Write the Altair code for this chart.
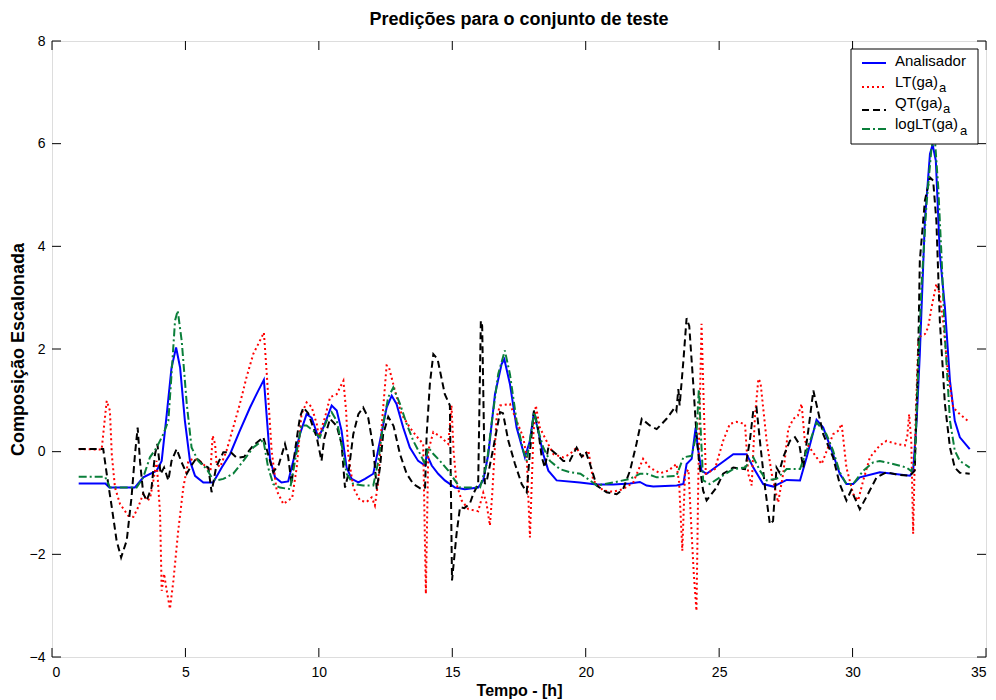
import altair as alt
import pandas as pd

# ---------------- data ----------------
x_ticks = [0, 5, 10, 15, 20, 25, 30, 35]
y_ticks = [-4, -2, 0, 2, 4, 6, 8]

analisador_t = [1.0, 2.0, 2.15, 3.1, 3.42, 3.92, 4.11, 4.30, 4.48, 4.65, 4.80, 4.98, 5.17, 5.36, 5.67, 6.04,
                6.36, 6.67, 7.04, 7.42, 7.73, 7.94, 8.17, 8.36, 8.6, 8.85, 9.04, 9.29, 9.54, 9.73, 9.98, 10.17,
                10.48, 10.67, 10.85, 11.04, 11.23, 11.48, 11.73, 12.04, 12.29, 12.54, 12.73, 12.91, 13.16, 13.41,
                13.72, 13.98, 14.04, 14.23, 14.47, 14.72, 15.1, 15.47, 15.97, 16.16, 16.35, 16.6, 16.85, 16.95,
                17.16, 17.41, 17.72, 17.91, 18.06, 18.22, 18.41, 18.6, 18.91, 19.78, 20.41, 21.03, 21.66, 22.03,
                22.28, 22.53, 23.41, 23.66, 23.78, 23.97, 24.12, 24.2, 24.34, 24.53, 25.03, 25.53, 26.03, 26.28,
                26.65, 27.03, 27.53, 28.03, 28.28, 28.65, 28.9, 29.27, 29.52, 29.77, 30.02, 30.27, 31.02, 31.52,
                32.15, 32.27, 32.4, 32.52, 32.71, 32.9, 33.0, 33.12, 33.27, 33.46, 33.65, 33.83, 34.02, 34.39]
analisador_y = [-0.62, -0.62, -0.70, -0.70, -0.50, -0.37, -0.18, 0.73, 1.64, 2.03, 1.64, 0.60, -0.18, -0.47, -0.60, -0.60,
                -0.31, -0.05, 0.41, 0.86, 1.19, 1.40, -0.15, -0.50, -0.60, -0.58, -0.18, 0.34, 0.73, 0.66, 0.28, 0.47,
                0.90, 0.80, 0.41, -0.31, -0.53, -0.60, -0.53, -0.43, 0.21, 0.86, 1.09, 0.93, 0.47, 0.08,
                -0.18, -0.27, -0.05, -0.27, -0.43, -0.56, -0.70, -0.73, -0.70, -0.56, -0.05, 1.12, 1.71, 1.80,
                1.32, 0.47, -0.11, 0.21, 0.77, 0.40, -0.05, -0.37, -0.56, -0.60, -0.64, -0.64, -0.62, -0.59,
                -0.66, -0.68, -0.66, -0.63, -0.24, -0.14, 0.47, 0.08, -0.37, -0.43, -0.24, -0.05, -0.05, -0.31,
                -0.63, -0.68, -0.55, -0.56, -0.11, 0.62, 0.47, -0.05, -0.43, -0.63, -0.63, -0.50, -0.40, -0.43,
                -0.47, -0.37, 0.60, 1.90, 4.50, 5.80, 5.98, 5.67, 3.85, 2.81, 1.38, 0.60, 0.28, 0.05]

lt_t = [1.0, 1.86, 2.05, 2.17, 2.24, 2.36, 2.55, 2.86, 3.05, 3.23, 3.42, 3.55, 3.67, 3.8, 3.92, 4.05, 4.11, 4.20,
        4.30, 4.42, 4.55, 4.73, 4.92, 5.11, 5.29, 5.5, 5.8, 5.94, 6.02, 6.11, 6.17, 6.3, 6.54, 6.79, 7.04, 7.29,
        7.54, 7.79, 7.94, 8.04, 8.23, 8.42, 8.67, 8.85, 9.0, 9.17, 9.35, 9.54, 9.73, 9.92, 10.0, 10.23, 10.42,
        10.67, 10.79, 10.92, 11.02, 11.1, 11.29, 11.54, 11.79, 11.98, 12.1, 12.23, 12.35, 12.54, 12.62, 12.85,
        13.1, 13.41, 13.66, 13.91, 14.01, 14.1, 14.29, 14.54, 14.85, 14.97, 15.05, 15.16, 15.35, 15.6, 15.97,
        16.16, 16.28, 16.41, 16.5, 16.66, 16.79, 17.16, 17.41, 17.66, 17.79, 17.91, 18.04, 18.13, 18.28, 18.53,
        18.79, 19.16, 19.4, 19.66, 19.85, 20.1, 20.28, 20.66, 21.03, 21.4, 21.78, 22.15, 22.4, 22.78, 23.1,
        23.4, 23.5, 23.62, 23.72, 23.85, 23.97, 24.05, 24.15, 24.22, 24.34, 24.42, 24.5, 24.84, 25.15, 25.4,
        25.65, 25.97, 26.09, 26.22, 26.34, 26.47, 26.55, 26.78, 26.97, 27.21, 27.4, 27.59, 27.78, 27.95, 28.09,
        28.21, 28.65, 28.84, 29.02, 29.27, 29.45, 29.59, 29.77, 30.02, 30.21, 30.4, 30.65, 31.02, 31.27, 31.65,
        31.96, 32.05, 32.12, 32.2, 32.27, 32.36, 32.47, 32.71, 32.83, 32.96, 33.14, 33.25, 33.39, 33.58, 33.77,
        34.02, 34.39]
lt_y = [0.05, 0.04, 0.99, 0.80, -0.05, -0.70, -1.02, -1.25, -1.27, -1.08, -0.82, -0.95, -0.92, -0.56, -0.18, -1.21,
        -2.71, -2.38, -2.71, -3.06, -2.51, -1.54, -0.70, -0.18, -0.14, -0.16, -0.31, -0.37, 0.31, 0.15, -0.24,
        -0.30, 0.02, 0.47, 0.93, 1.45, 1.90, 2.16, 2.32, 1.58, 0.02, -0.76, -1.02, -0.95, -0.90, -0.31, 0.73,
        0.96, 0.87, 0.54, 0.30, 0.67, 1.06, 1.12, 1.25, 1.38, 0.80, -0.05, -0.70, -0.95, -0.98, -0.89, -1.05,
        -0.56, 0.47, 1.68, 1.66, 1.19, 0.73, 0.47, 0.30, 0.15, -2.77, 0.02, 0.38, 0.30, 0.15, 0.90, 0.0, -0.63,
        -0.95, -1.12, -1.16, -0.80, -1.00, -1.44, -0.80, 0.67, 0.90, 0.93, 0.60, 0.28, -0.11, -1.67, 0.34, 0.90,
        0.47, 0.21, -0.05, -0.11, -0.05, 0.08, -0.11, 0.02, -0.56, -0.76, -0.78, -0.73, -0.60, -0.14, -0.31,
        -0.42, -0.37, -0.24, -0.60, -1.93, -0.43, -0.35, -1.60, -2.38, -3.10, -0.50, 2.49, 0.99, -0.43, -0.34,
        0.21, 0.54, 0.58, 0.54, -0.43, -0.66, 0.67, 1.42, 1.35, 0.21, -0.43, -0.99, -0.43, 0.44, 0.64, 0.70,
        0.93, 0.21, -0.11, -0.24, 0.0, 0.34, 0.40, 0.54, -0.31, -0.82, -0.95, -0.56, -0.11, 0.12, 0.21, 0.15,
        0.12, 0.30, 0.73, 0.20, -1.60, 0.60, 2.23, 2.29, 2.42, 2.81, 3.27, 3.10, 2.55, 1.51, 0.86, 0.73, 0.57]

qt_t = [1.0, 1.92, 2.05, 2.24, 2.42, 2.59, 2.80, 2.98, 3.11, 3.21, 3.30, 3.42, 3.55, 3.73, 3.86, 3.95, 4.07, 4.20,
        4.36, 4.48, 4.67, 4.85, 5.05, 5.25, 5.42, 5.65, 5.86, 5.98, 6.15, 6.42, 6.7, 6.92, 7.2, 7.54, 7.92, 8.17,
        8.29, 8.5, 8.73, 8.85, 8.98, 9.1, 9.29, 9.42, 9.6, 9.92, 10.1, 10.2, 10.42, 10.67, 10.85, 10.98, 11.1,
        11.29, 11.48, 11.66, 11.85, 12.04, 12.17, 12.29, 12.41, 12.6, 12.8, 13.04, 13.29, 13.54, 13.85, 13.98,
        14.04, 14.16, 14.29, 14.45, 14.72, 14.91, 14.99, 15.16, 15.29, 15.45, 15.66, 15.79, 15.97, 16.07, 16.12,
        16.22, 16.3, 16.54, 16.79, 16.9, 17.1, 17.35, 17.6, 17.79, 17.91, 18.06, 18.2, 18.35, 18.47, 18.6, 18.9,
        19.16, 19.4, 19.66, 19.85, 20.0, 20.16, 20.41, 20.78, 21.16, 21.4, 21.66, 21.9, 22.1, 22.4, 22.66, 23.03,
        23.34, 23.4, 23.47, 23.52, 23.66, 23.78, 23.88, 24.03, 24.15, 24.25, 24.4, 24.53, 24.9, 25.15, 25.53,
        25.97, 26.15, 26.28, 26.4, 26.55, 26.72, 26.9, 27.02, 27.15, 27.25, 27.4, 27.65, 27.84, 28.0, 28.15,
        28.34, 28.53, 28.7, 28.9, 29.27, 29.52, 29.77, 29.95, 30.27, 30.5, 30.9, 31.27, 31.7, 32.15, 32.33,
        32.46, 32.52, 32.71, 32.9, 33.02, 33.14, 33.27, 33.46, 33.65, 33.83, 34.02, 34.39]
qt_y = [0.05, 0.05, -0.43, -1.08, -1.73, -2.06, -1.73, -0.89, -0.05, 0.47, -0.20, -0.82, -0.95, -0.70, -0.05, 0.15,
        -0.43, -0.31, -0.56, -0.18, 0.05, -0.20, -0.43, -0.25, -0.12, -0.25, -0.31, -0.79, -0.30, -0.01, -0.01,
        -0.12, -0.10, 0.12, 0.28, -0.18, -0.40, -0.25, 0.15, -0.10, -0.63, 0.0, 0.67, 0.86, 0.75, 0.28, -0.18,
        0.25, 0.64, 0.50, 0.15, -0.70, -0.45, 0.34, 0.73, 0.86, 0.66, 0.08, -0.73, -0.31, 0.34, 0.68, 0.50,
        -0.05, -0.43, -0.63, -0.73, -0.70, 0.34, 1.32, 1.90, 1.80, 1.12, 0.90, -2.51, -1.60, -1.08, -1.10,
        -1.01, -0.82, -0.63, 2.55, 2.45, -0.63, -0.55, 0.08, 0.77, 0.75, 0.21, -0.24, -0.63, -0.79, 0.0, 0.80,
        0.50, -0.10, -0.31, 0.08, -0.05, -0.18, -0.18, 0.08, -0.10, 0.0, -0.24, -0.66, -0.79, -0.83, -0.73,
        -0.37, 0.15, 0.64, 0.51, 0.44, 0.64, 0.86, 0.80, 1.22, 0.90, 1.77, 2.60, 2.45, 1.32, 0.34, -0.20, -0.76,
        -0.95, -0.70, -0.43, -0.31, -0.34, 0.21, 0.80, 0.86, 0.10, -0.70, -1.41, -1.35, -0.31, -0.40, -0.11,
        0.21, 0.28, 0.15, -0.31, 0.41, 1.19, 0.80, 0.34, -0.11, -0.63, -0.95, -0.75, -1.12, -0.90, -0.50, -0.40,
        -0.45, -0.47, -0.37, 1.90, 3.72, 4.89, 5.34, 5.28, 4.50, 2.55, 0.93, 0.08, -0.31, -0.41, -0.43]

loglt_t = [1.0, 1.99, 2.17, 3.17, 3.42, 3.67, 3.92, 4.17, 4.36, 4.48, 4.61, 4.71, 4.86, 5.05, 5.23, 5.48, 5.8,
           5.98, 6.17, 6.42, 6.79, 7.17, 7.54, 7.92, 8.1, 8.29, 8.54, 8.92, 9.1, 9.35, 9.54, 9.79, 10.04, 10.29,
           10.48, 10.67, 10.85, 11.04, 11.29, 11.66, 12.04, 12.23, 12.41, 12.6, 12.79, 13.04, 13.29, 13.54, 13.8,
           13.98, 14.1, 14.3, 14.54, 14.85, 15.1, 15.29, 16.04, 16.29, 16.47, 16.72, 16.97, 17.16, 17.41, 17.66,
           17.79, 17.98, 18.07, 18.2, 18.41, 18.66, 19.03, 19.41, 19.8, 20.16, 20.41, 21.03, 21.66, 22.03, 22.28,
           22.66, 23.4, 23.66, 23.97, 24.15, 24.24, 24.32, 24.4, 24.65, 25.03, 25.53, 25.97, 26.28, 26.53, 26.78,
           27.15, 27.53, 28.03, 28.28, 28.65, 29.02, 29.27, 29.52, 29.77, 30.02, 30.4, 30.77, 31.02, 31.52, 32.02,
           32.2, 32.33, 32.46, 32.58, 32.77, 32.96, 33.08, 33.21, 33.33, 33.46, 33.65, 33.83, 34.02, 34.39]
loglt_y = [-0.49, -0.49, -0.70, -0.70, -0.50, -0.11, 0.08, 0.34, 0.60, 1.51, 2.55, 2.75, 2.16, 0.93, 0.08, -0.18,
           -0.34, -0.50, -0.56, -0.53, -0.43, -0.18, 0.08, 0.23, -0.31, -0.63, -0.70, -0.73, -0.20, 0.51, 0.51,
           0.41, 0.28, 0.60, 0.77, 0.60, 0.15, -0.43, -0.63, -0.66, -0.66, -0.18, 0.54, 1.06, 1.25, 0.93, 0.54,
           0.21, -0.05, -0.24, 0.08, -0.05, -0.18, -0.37, -0.56, -0.70, -0.70, -0.24, 0.54, 1.51, 1.97, 1.51,
           0.60, 0.02, -0.18, 0.47, 0.77, 0.45, 0.08, -0.18, -0.34, -0.40, -0.43, -0.56, -0.66, -0.60, -0.53,
           -0.43, -0.43, -0.50, -0.47, -0.11, -0.08, 0.34, 1.22, 0.30, -0.56, -0.63, -0.50, -0.34, -0.31, -0.11,
           -0.37, -0.56, -0.53, -0.34, -0.34, 0.02, 0.57, 0.34, 0.02, -0.40, -0.63, -0.63, -0.37, -0.21, -0.18,
           -0.24, -0.31, -0.38, -0.20, 1.58, 3.20, 4.82, 5.93, 6.12, 5.15, 3.85, 2.23, 0.60, 0.02, -0.18, -0.31]

title_text = "Predições para o conjunto de teste"

# ---------------- chart ----------------
W, H = 934, 616
FONT = "Liberation Sans"

xs = alt.Scale(domain=[0, 35], nice=False, zero=False)
ys = alt.Scale(domain=[-4, 8], nice=False, zero=False)

x_enc = alt.X("t:Q", scale=xs,
              axis=alt.Axis(values=x_ticks, title="Tempo - [h]", grid=False, ticks=False, tickSize=0,
                            domain=False, labelPadding=8, labelFontSize=14, labelFont=FONT,
                            labelColor="black", titleFont=FONT, titleFontSize=16, titleFontWeight="bold",
                            titleColor="black", titleY=33, titleBaseline="middle", format="d"))
y_enc = alt.Y("v:Q", scale=ys,
              axis=alt.Axis(values=y_ticks, title="Composição Escalonada", grid=False, ticks=False, tickSize=0,
                            domain=False, labelPadding=7, labelFontSize=14, labelFont=FONT,
                            labelColor="black", titleFont=FONT, titleFontSize=18, titleFontWeight="bold",
                            titleColor="black", titleX=-34, titleY=H / 2, titleBaseline="middle",
                            titleAlign="center", format="d"))


def series(t, v, color, dash=None):
    df = pd.DataFrame({"t": t, "v": v, "i": list(range(len(t)))})
    kw = dict(color=color, strokeWidth=2, clip=True)
    if dash:
        kw["strokeDash"] = dash
    return alt.Chart(df).mark_line(**kw).encode(x=x_enc, y=y_enc, order="i:Q")


blue = series(analisador_t, analisador_y, "#0000ff")
red = series(lt_t, lt_y, "#ff0000", [2, 3])
black = series(qt_t, qt_y, "#000000", [7, 4])
green = series(loglt_t, loglt_y, "#0a7f3a", [8, 3, 2, 3])

# inward tick marks on all four sides (MATLAB box style)
xt = pd.DataFrame({"t": x_ticks})
yt = pd.DataFrame({"v": y_ticks})
tick_b = alt.Chart(xt).mark_rule(color="black", strokeWidth=1).encode(x=x_enc, y=alt.value(H), y2=alt.value(H - 9))
tick_t = alt.Chart(xt).mark_rule(color="black", strokeWidth=1).encode(x=x_enc, y=alt.value(0), y2=alt.value(9))
tick_l = alt.Chart(yt).mark_rule(color="black", strokeWidth=1).encode(y=y_enc, x=alt.value(0), x2=alt.value(9))
tick_r = alt.Chart(yt).mark_rule(color="black", strokeWidth=1).encode(y=y_enc, x=alt.value(W), x2=alt.value(W - 9))

# manual legend (MATLAB style with subscripts)
one = pd.DataFrame({"k": [0]})
leg_box = alt.Chart(one).mark_rect(fill="white", stroke="black", strokeWidth=1).encode(
    x=alt.value(799), x2=alt.value(926), y=alt.value(8), y2=alt.value(103))


def leg_line(color, y, dash=None):
    kw = dict(color=color, strokeWidth=2)
    if dash:
        kw["strokeDash"] = dash
    return alt.Chart(one).mark_rule(**kw).encode(x=alt.value(810), x2=alt.value(834), y=alt.value(y))


def leg_text(s, x, y, size=15, weight="normal"):
    return alt.Chart(one).mark_text(text=s, align="left", baseline="middle", fontSize=size, font=FONT,
                                    fontWeight=weight, color="black").encode(x=alt.value(x), y=alt.value(y))


legend = [
    leg_box,
    leg_line("#0000ff", 22),
    leg_line("#ff0000", 46, [2, 3]),
    leg_line("#000000", 69, [7, 4]),
    leg_line("#0a7f3a", 88, [8, 3, 2, 3]),
    leg_text("Analisador", 843, 20),
    leg_text("LT(ga)", 843, 41),
    leg_text("a", 887, 47, 13),
    leg_text("QT(ga)", 843, 62),
    leg_text("a", 891, 68, 13),
    leg_text("logLT(ga)", 843, 83),
    leg_text("a", 908, 90, 13),
]

title = alt.Chart(one).mark_text(text=title_text, align="center", baseline="middle", fontSize=18, font=FONT,
                                 fontWeight="bold", color="black").encode(x=alt.value(W / 2), y=alt.value(-21))

chart = alt.layer(blue, red, black, green, tick_b, tick_t, tick_l, tick_r, *legend, title).properties(
    width=W, height=H,
    autosize=alt.AutoSizeParams(type="none"),
    padding={"left": 52, "top": 41, "right": 10, "bottom": 43},
).configure_view(stroke="black", strokeWidth=1).configure(background="white")

chart.save("out.html", embed_options={"renderer": "svg", "actions": False})
